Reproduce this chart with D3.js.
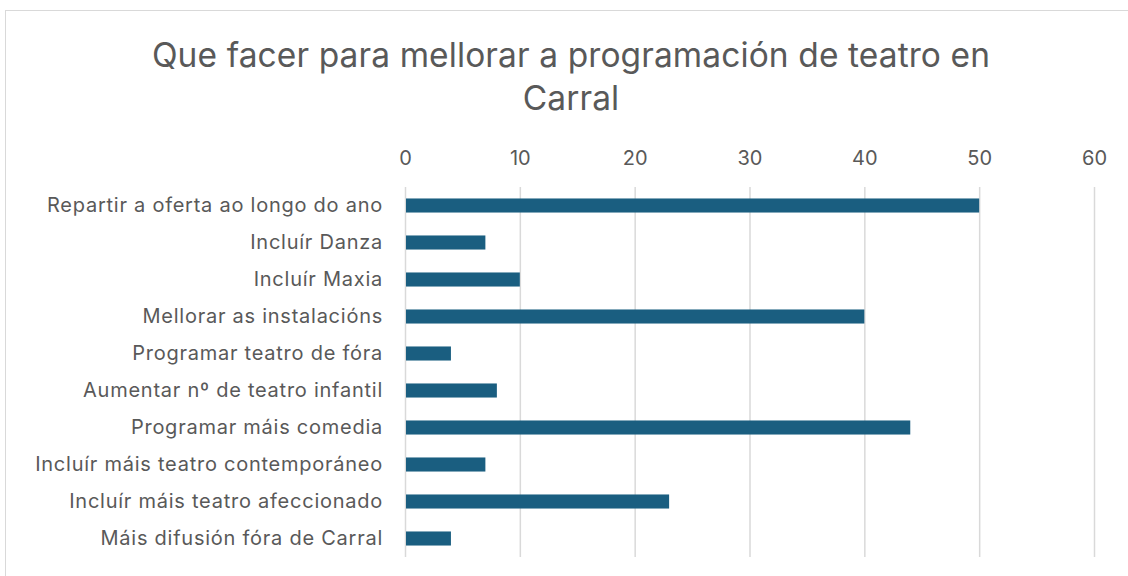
<!DOCTYPE html>
<html lang="gl">
<head>
  <meta charset="UTF-8">
  <title>Que facer para mellorar a programación de teatro en Carral</title>
  <style>
    body { margin: 0; background: #fff; }
    svg { display: block; font-family: Inter, "Noto Sans", sans-serif; }
  </style>
</head>
<body>

<svg id="chart" width="1128" height="576"></svg>

<script src="https://cdn.jsdelivr.net/npm/d3@7"></script>
<script>
var categorias = [
  "Repartir a oferta ao longo do ano",
  "Incluír Danza",
  "Incluír Maxia",
  "Mellorar as instalacións",
  "Programar teatro de fóra",
  "Aumentar nº de teatro infantil",
  "Programar máis comedia",
  "Incluír máis teatro contemporáneo",
  "Incluír máis teatro afeccionado",
  "Máis difusión fóra de Carral"
];
var valores = [50, 7, 10, 40, 4, 8, 44, 7, 23, 4];
var ticks = [0, 10, 20, 30, 40, 50, 60];
var titulo = ["Que facer para mellorar a programación de teatro en", "Carral"];

var svg = d3.select("#chart"),
  width = +svg.attr("width"),
  height = +svg.attr("height"),
  gris = "#595959",
  cor = "#1a5e80";

// marco do gráfico
svg.append("rect")
  .attr("x", 5.5).attr("y", 10.5)
  .attr("width", width + 10).attr("height", height + 10)
  .attr("fill", "none")
  .attr("stroke", "#d9d9d9")
  .attr("stroke-width", 1);

// titulo
svg.append("g").selectAll("text")
  .data(titulo)
  .join("text")
  .attr("x", 571)
  .attr("y", function (d, i) { return 67 + i * 43; })
  .attr("text-anchor", "middle")
  .attr("font-size", 33.5)
  .attr("letter-spacing", 0.1)
  .attr("fill", gris)
  .text(function (d) { return d; });

var x = d3.scaleLinear().domain([0, 60]).range([405, 1094]);
var y = d3.scaleBand().domain(categorias).range([187, 557]).paddingInner(0.62).paddingOuter(0.31);

// eixo superior
var eixoX = svg.append("g")
  .attr("transform", "translate(0,187)")
  .call(d3.axisTop(x).tickValues(ticks).tickSize(0).tickPadding(22));
eixoX.select(".domain").remove();
eixoX.selectAll("text")
  .attr("font-size", 20)
  .attr("font-family", "Inter, 'Noto Sans', sans-serif")
  .attr("fill", gris);

// liñas de grella
svg.append("g").selectAll("line")
  .data(ticks)
  .join("line")
  .attr("x1", function (d) { return x(d) + 0.5; })
  .attr("x2", function (d) { return x(d) + 0.5; })
  .attr("y1", 187)
  .attr("y2", 557)
  .attr("stroke", "#d9d9d9")
  .attr("stroke-width", 1.5);

// barras
svg.append("g").selectAll("rect")
  .data(valores)
  .join("rect")
  .attr("x", x(0) + 1)
  .attr("y", function (d, i) { return y(categorias[i]); })
  .attr("width", function (d) { return x(d) - x(0) - 1; })
  .attr("height", y.bandwidth())
  .attr("fill", cor);

// etiquetas
var eixoY = svg.append("g")
  .attr("transform", "translate(405,0)")
  .call(d3.axisLeft(y).tickSize(0).tickPadding(22));
eixoY.select(".domain").remove();
eixoY.selectAll("text")
  .attr("font-size", 20)
  .attr("letter-spacing", 0.75)
  .attr("font-family", "Inter, 'Noto Sans', sans-serif")
  .attr("fill", gris);
</script>

</body>
</html>
